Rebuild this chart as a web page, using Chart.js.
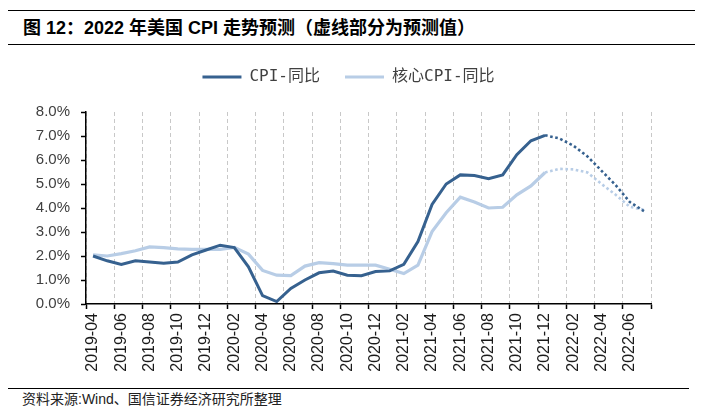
<!DOCTYPE html>
<html>
<head>
<meta charset="utf-8">
<script src="https://cdn.jsdelivr.net/npm/chart.js@4"></script>
<style>
  body { margin: 0; background: #fff; width: 702px; height: 416px; position: relative; overflow: hidden; }
  .rule { position: absolute; left: 8px; height: 0; border-top: 1.5px solid #000; }
  #title { position: absolute; left: 23px; top: 13px; line-height: 18px; font: bold 18px "Liberation Sans", "Noto Sans CJK SC", sans-serif; color: #000; white-space: nowrap; }
  #source { position: absolute; left: 22px; top: 392px; line-height: 14px; font-size: 14px; font-family: "Liberation Sans", "Noto Sans CJK SC", sans-serif; color: #222; white-space: nowrap; }
  #wrap { position: absolute; left: 0; top: 50px; width: 702px; height: 335px; }
</style>
</head>
<body>
<div class="rule" style="top:10px; width:687px;"></div>
<div id="title">图 12：2022 年美国 CPI 走势预测（虚线部分为预测值）</div>
<div class="rule" style="top:44px; width:687px;"></div>
<div id="wrap"><canvas id="cpiChart" width="702" height="335"></canvas></div>
<div class="rule" style="top:388px; width:681px; border-top-width:1px;"></div>
<div id="source">资料来源:Wind、国信证券经济研究所整理</div>

<script>
/* 2022 US CPI forecast chart (Chart.js) */

// months 2019-04 .. 2022-07
const months = [
  '2019-04', '2019-05', '2019-06', '2019-07', '2019-08', '2019-09', '2019-10', '2019-11', '2019-12',
  '2020-01', '2020-02', '2020-03', '2020-04', '2020-05', '2020-06', '2020-07', '2020-08', '2020-09',
  '2020-10', '2020-11', '2020-12',
  '2021-01', '2021-02', '2021-03', '2021-04', '2021-05', '2021-06', '2021-07', '2021-08', '2021-09',
  '2021-10', '2021-11', '2021-12',
  '2022-01', '2022-02', '2022-03', '2022-04', '2022-05', '2022-06', '2022-07'
];

// CPI YoY, %
const cpiYoY = [
  2.0, 1.8, 1.65, 1.8, 1.75, 1.7, 1.75, 2.05, 2.25,
  2.45, 2.35, 1.55, 0.35, 0.1, 0.65, 1.0, 1.3, 1.37,
  1.2, 1.18, 1.35,
  1.38, 1.65, 2.6, 4.15, 5.0, 5.38, 5.35, 5.22, 5.38,
  6.22, 6.8, 7.03,
  6.9, 6.6, 6.15, 5.55, 4.95, 4.25, 3.87
];

// core CPI YoY, %
const coreYoY = [
  2.05, 2.0, 2.1, 2.22, 2.38, 2.35, 2.3, 2.28, 2.28,
  2.28, 2.36, 2.08, 1.4, 1.2, 1.18, 1.58, 1.72, 1.68,
  1.62, 1.62, 1.62,
  1.45, 1.27, 1.62, 3.02, 3.8, 4.45, 4.25, 4.0, 4.03,
  4.55, 4.92, 5.48,
  5.63, 5.61, 5.48, 5.0, 4.55, 4.05, 3.92
];

const yTicks = [0, 1, 2, 3, 4, 5, 6, 7, 8];

// first index of forecast (dotted) part: from 2021-12 on
const forecastFrom = 32;

const darkBlue = '#36618f';
const lightBlue = '#b8cde6';

const dotted = (ctx) => ctx.p0DataIndex >= forecastFrom ? [2.6, 2.6] : undefined;
const dotWidth = (w) => (ctx) => ctx.p0DataIndex >= forecastFrom ? 2.6 : w;

const everyOther = (ctx, on) => ((ctx.index === undefined ? 0 : ctx.index) % 2 === 0 ? on : 'rgba(0,0,0,0)');

// extra space under the legend, and legend nudged right
const legendTweak = {
  id: 'legendTweak',
  beforeInit(chart) {
    const fit = chart.legend.fit;
    chart.legend.fit = function () {
      fit.call(this);
      this.height += 17;
    };
  },
  afterLayout(chart) {
    chart.legend.left += 23;
    chart.legend.right += 23;
  }
};

const cpiCanvas = document.getElementById('cpiChart');

const cpiConfig = {
  type: 'line',
  data: {
    labels: months,
    datasets: [{
      label: 'CPI-同比',
      data: cpiYoY,
      borderColor: darkBlue,
      backgroundColor: darkBlue,
      borderWidth: 3,
      pointRadius: 0,
      segment: { borderDash: dotted, borderWidth: dotWidth(3) }
    }, {
      label: '核心CPI-同比',
      data: coreYoY,
      borderColor: lightBlue,
      backgroundColor: lightBlue,
      borderWidth: 3.2,
      pointRadius: 0,
      segment: { borderDash: dotted, borderWidth: dotWidth(3.2) }
    }]
  },
  options: {
    responsive: false,
    animation: false,
    layout: { padding: { left: 0, right: 51, top: -6, bottom: 0 } },
    plugins: {
      legend: {
        labels: {
          boxWidth: 39,
          boxHeight: 0,
          padding: 25,
          color: '#404040',
          font: { family: "'DejaVu Sans Mono', 'Noto Sans CJK SC', monospace", size: 16 }
        }
      },
      tooltip: { enabled: false }
    },
    scales: {
      x: {
        type: 'category',
        offset: true,
        afterFit: (scale) => { scale.height = 81; },
        grid: {
          offset: true,
          drawOnChartArea: true,
          color: (ctx) => everyOther(ctx, '#c8c8c8'),
          lineWidth: 1,
          tickLength: 5,
          tickWidth: 1.5,
          tickColor: (ctx) => everyOther(ctx, '#000')
        },
        border: { color: '#000', width: 1.5, dash: [4, 3] },
        ticks: {
          autoSkip: false,
          maxRotation: 90,
          minRotation: 90,
          padding: 4,
          color: '#1a1a1a',
          font: { family: "'Liberation Sans', Arial, sans-serif", size: 16 },
          callback: (val, i) => (i % 2 === 0 ? months[i] : '')
        }
      },
      y: {
        min: yTicks[0],
        max: yTicks[yTicks.length - 1],
        afterFit: (scale) => { scale.width = 86; },
        afterBuildTicks: (scale) => { scale.ticks = yTicks.map(v => ({ value: v })); },
        grid: {
          drawOnChartArea: false,
          tickLength: 5,
          tickWidth: 1.5,
          tickColor: '#000'
        },
        border: { color: '#000', width: 1.5 },
        ticks: {
          padding: 11,
          color: '#404040',
          font: { family: "'Liberation Sans', Arial, sans-serif", size: 15 },
          callback: (v) => v.toFixed(1) + '%'
        }
      }
    }
  },
  plugins: [legendTweak]
};

new Chart(cpiCanvas, cpiConfig);
</script>
</body>
</html>
